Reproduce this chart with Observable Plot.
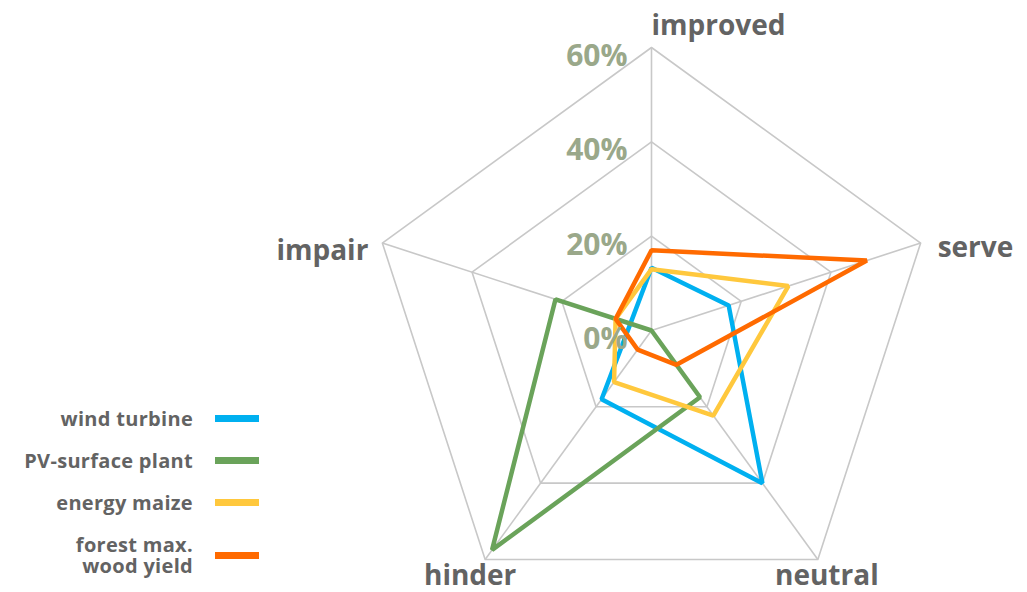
<!DOCTYPE html>
<html>
<head>
<meta charset="utf-8">
<script src="https://cdn.jsdelivr.net/npm/d3@7"></script>
<script src="https://cdn.jsdelivr.net/npm/@observablehq/plot@0.6"></script>
<style>
  html, body { margin: 0; padding: 0; background: #fff; }
  #wrap { position: relative; width: 1027px; height: 592px; font-family: "Open Sans", Roboto, sans-serif; }
  #legend { position: absolute; left: 0; top: 0; width: 270px; height: 592px; }
  .row { position: absolute; left: 0; width: 259px; display: flex; align-items: center; justify-content: flex-end; }
  .lab { font-weight: 700; font-size: 20px; color: #636363; text-align: right; line-height: 21px; margin-right: 22px; letter-spacing: 0.3px; }
  .sw { width: 44px; height: 7px; }
</style>
</head>
<body>
<div id="wrap">
  <div id="chart"></div>
  <div id="legend"></div>
</div>
<script>
// ---- data ----
const axes = ["improved", "serve", "neutral", "hinder", "impair"];
const ticks = [0, 20, 40, 60];
const seriesNames = ["wind turbine", "PV-surface plant", "energy maize", "forest max. wood yield"];
const windTurbine = [13.3, 17.2, 40, 18, 4.7];
const pvSurfacePlant = [0, 0, 17.5, 57.5, 21.4];
const energyMaize = [13, 30.5, 22.3, 13.5, 8];
const forestWood = [17, 48, 9, 5, 8];
const colors = ["#00b0f0", "#6aa35a", "#ffc83d", "#ff6a00"];

// ---- layout helpers ----
const W = 1027, H = 592;
const cx = 651, cy = 330, rMaxPx = 283, rMax = 60;
const u = rMaxPx / rMax; // px per percent
const n = axes.length;
const ang = i => (i * 2 * Math.PI) / n;
const px = (i, v) => v * Math.sin(ang(i));
const py = (i, v) => v * Math.cos(ang(i));

const seriesValues = [windTurbine, pvSurfacePlant, energyMaize, forestWood];
const pts = seriesValues.flatMap((vals, s) =>
  vals.map((v, i) => ({series: seriesNames[s], i, x: px(i, v), y: py(i, v)})));

const rings = ticks.filter(t => t > 0).flatMap(t =>
  axes.map((a, i) => ({t, x: px(i, t), y: py(i, t)})));
const spokes = axes.map((a, i) => ({x2: px(i, rMax), y2: py(i, rMax)}));

const labelStyle = {
  improved: {anchor: "start", dx: 0, dy: -21},
  serve: {anchor: "start", dx: 17, dy: 5},
  neutral: {anchor: "middle", dx: 9, dy: 17},
  hinder: {anchor: "middle", dx: -15, dy: 17},
  impair: {anchor: "end", dx: -14, dy: 8}
};
const axisLabels = axes.map((a, i) => ({a, x: px(i, rMax), y: py(i, rMax)}));

const chart = Plot.plot({
  width: W, height: H,
  margin: 0,
  x: {domain: [-cx / u, (W - cx) / u], axis: null},
  y: {domain: [-(H - cy) / u, cy / u], axis: null},
  style: {fontFamily: "'Open Sans', Roboto, sans-serif", background: "#fff"},
  marks: [
    Plot.line(rings, {x: "x", y: "y", z: "t", curve: "linear-closed", stroke: "#c8c8c8", strokeWidth: 1.6}),
    Plot.link(spokes, {x1: 0, y1: 0, x2: "x2", y2: "y2", stroke: "#c8c8c8", strokeWidth: 1.6}),
    Plot.line(pts, {x: "x", y: "y", z: "series", stroke: d => d.series, curve: "linear-closed", strokeWidth: 4.5, strokeLinejoin: "miter"}),
    Plot.text(ticks, {x: 0, y: d => d, text: d => d + "%", textAnchor: "end", dx: -24, dy: 9, fill: "#9aa88a", fontSize: 30, fontWeight: 700}),
    ...axes.map(a => Plot.text(axisLabels.filter(d => d.a === a), {
      x: "x", y: "y", text: "a", textAnchor: labelStyle[a].anchor,
      dx: labelStyle[a].dx, dy: labelStyle[a].dy, fill: "#636363", fontSize: 28, fontWeight: 700
    }))
  ],
  color: {domain: seriesNames, range: colors}
});
document.getElementById("chart").appendChild(chart);

// ---- legend ----
const rowTops = [418, 460, 502, 555];
const legend = document.getElementById("legend");
seriesNames.forEach((name, k) => {
  const row = document.createElement("div");
  row.className = "row";
  const lab = document.createElement("div");
  lab.className = "lab";
  lab.innerHTML = name === "forest max. wood yield" ? "forest max.<br>wood yield" : name;
  const sw = document.createElement("div");
  sw.className = "sw";
  sw.style.background = colors[k];
  row.appendChild(lab);
  row.appendChild(sw);
  legend.appendChild(row);
  row.style.top = (rowTops[k] - row.offsetHeight / 2) + "px";
});
</script>
</body>
</html>
